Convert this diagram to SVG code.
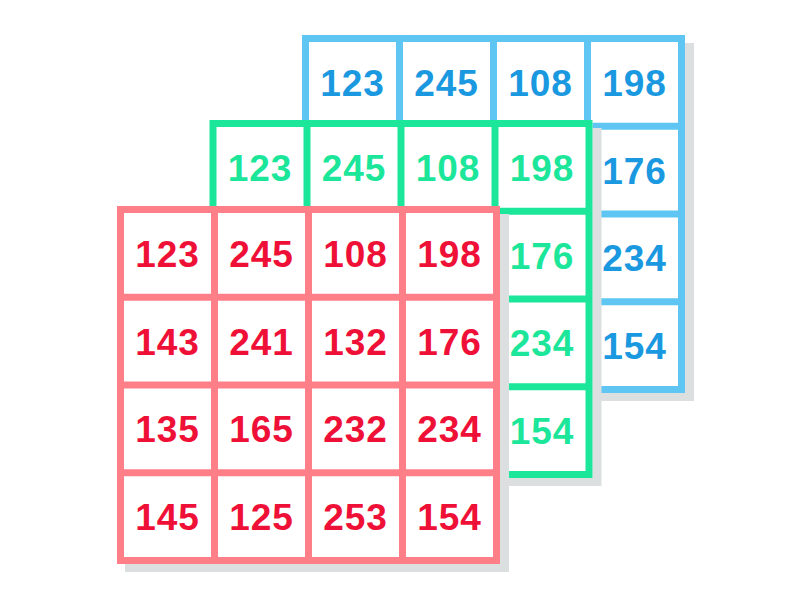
<svg xmlns="http://www.w3.org/2000/svg" width="800" height="607" viewBox="0 0 800 607">
<style>
.shadow{fill:#dcdfdf;stroke:none}
.bg{fill:#ffffff;stroke:none}
.grid{fill:none;stroke-width:7}
.t{font-family:"Liberation Sans",Arial,sans-serif;font-weight:bold;font-size:37px;text-anchor:middle;letter-spacing:1px}
.blue use{stroke:#5fc6f3}
.blue .t{fill:#1a98e0}
.green use{stroke:#1ce69a}
.green .t{fill:#1ce69a}
.red use{stroke:#ff7f88}
.red .t{fill:#ef1037}
</style>
<defs>
<g id="layer">
<rect class="shadow" x="125" y="214" width="384" height="358"/>
<rect class="bg" x="117" y="206" width="383" height="358"/>
<rect class="grid" x="120.5" y="209.5" width="376" height="351"/>
<path class="grid" d="M214.5 209.5V560.5M308.5 209.5V560.5M402.5 209.5V560.5M120.5 297.25H496.5M120.5 385H496.5M120.5 472.75H496.5"/>
</g>
</defs>
<g id="blue-layer" class="blue" transform="translate(185,-171)">
<use href="#layer"/>
<text class="t" x="167.5" y="267">123</text>
<text class="t" x="261.5" y="267">245</text>
<text class="t" x="355.5" y="267">108</text>
<text class="t" x="449.5" y="267">198</text>
<text class="t" x="449.5" y="354.6">176</text>
<text class="t" x="449.5" y="442.4">234</text>
<text class="t" x="449.5" y="530.1">154</text>
</g>
<g id="green-layer" class="green" transform="translate(92.5,-86)">
<use href="#layer"/>
<text class="t" x="167.5" y="267">123</text>
<text class="t" x="261.5" y="267">245</text>
<text class="t" x="355.5" y="267">108</text>
<text class="t" x="449.5" y="267">198</text>
<text class="t" x="449.5" y="354.6">176</text>
<text class="t" x="449.5" y="442.4">234</text>
<text class="t" x="449.5" y="530.1">154</text>
</g>
<g id="red-layer" class="red">
<use href="#layer"/>
<text class="t" x="167.5" y="267">123</text>
<text class="t" x="261.5" y="267">245</text>
<text class="t" x="355.5" y="267">108</text>
<text class="t" x="449.5" y="267">198</text>
<text class="t" x="167.5" y="354.6">143</text>
<text class="t" x="261.5" y="354.6">241</text>
<text class="t" x="355.5" y="354.6">132</text>
<text class="t" x="449.5" y="354.6">176</text>
<text class="t" x="167.5" y="442.4">135</text>
<text class="t" x="261.5" y="442.4">165</text>
<text class="t" x="355.5" y="442.4">232</text>
<text class="t" x="449.5" y="442.4">234</text>
<text class="t" x="167.5" y="530.1">145</text>
<text class="t" x="261.5" y="530.1">125</text>
<text class="t" x="355.5" y="530.1">253</text>
<text class="t" x="449.5" y="530.1">154</text>
</g>
</svg>
